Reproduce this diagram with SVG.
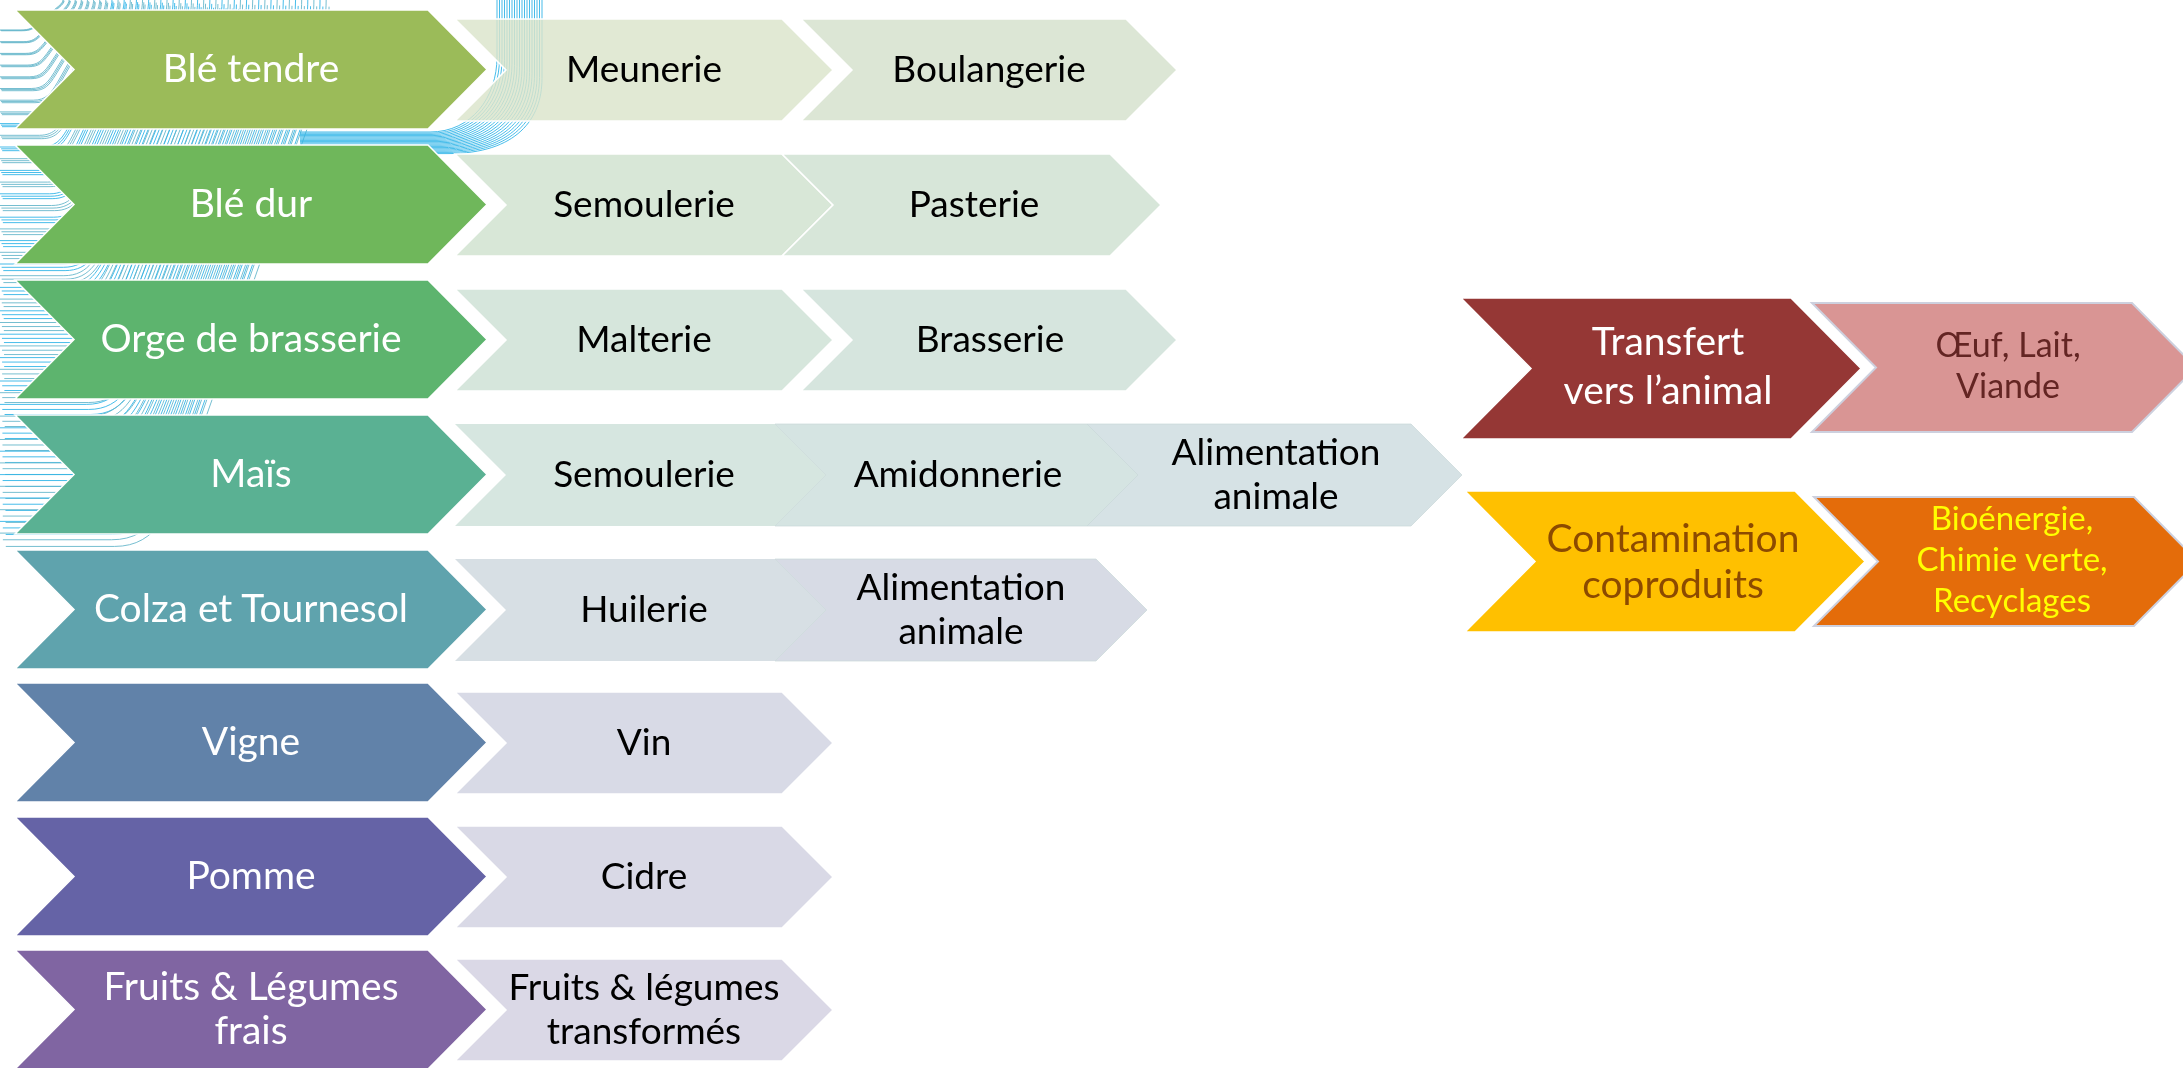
<svg xmlns="http://www.w3.org/2000/svg" xmlns:xlink="http://www.w3.org/1999/xlink" width="2183" height="1068" viewBox="0 0 2183 1068">
<defs>
<style>
.bg{fill:#fff}
.p{stroke:#fff;stroke-width:1.5}
.s{stroke:#fff;stroke-width:1.5}
.ov{stroke:#c9d8d8;stroke-width:1;stroke-opacity:0.7}
.t{font-family:Lato,"Open Sans","DejaVu Sans",sans-serif;text-anchor:middle}
.tp{font-size:39px;fill:#fff}
.ts{font-size:37px;fill:#000}
.wv{fill:none;stroke-width:0.9;vector-effect:non-scaling-stroke}
.c1{stroke:#27b1e6}
.c2{stroke:#5fb3c8}
</style>
<g id="wb">
<path class="wv" d="M0,1 L0.3,1 C0.42,1 0.46,0.93 0.52,0.82 L0.84,0.2 C0.88,0.12 0.9,0.05 0.9,0"/>
<path class="wv" transform="translate(0.008,0.0125)" d="M0,1 L0.3,1 C0.42,1 0.46,0.93 0.52,0.82 L0.84,0.2 C0.88,0.12 0.9,0.05 0.9,0"/>
<path class="wv" transform="translate(0.016,0.025)" d="M0,1 L0.3,1 C0.42,1 0.46,0.93 0.52,0.82 L0.84,0.2 C0.88,0.12 0.9,0.05 0.9,0"/>
</g>
</defs>
<rect class="bg" x="0" y="0" width="2183" height="1068"/>

<g id="background-pattern" opacity="0.95">
<use xlink:href="#wb" class="c2" transform="scale(70,30)"/>
<use xlink:href="#wb" class="c2" transform="scale(76.8,41.7)"/>
<use xlink:href="#wb" class="c2" transform="scale(83.6,53.4)"/>
<use xlink:href="#wb" class="c2" transform="scale(90.4,65.1)"/>
<use xlink:href="#wb" class="c2" transform="scale(97.2,76.8)"/>
<use xlink:href="#wb" class="c2" transform="scale(104,88.5)"/>
<use xlink:href="#wb" class="c2" transform="scale(110.8,100.2)"/>
<use xlink:href="#wb" class="c2" transform="scale(117.6,111.9)"/>
<use xlink:href="#wb" class="c1" transform="scale(124.4,123.6)"/>
<use xlink:href="#wb" class="c2" transform="scale(131.2,135.3)"/>
<use xlink:href="#wb" class="c1" transform="scale(138,147)"/>
<use xlink:href="#wb" class="c2" transform="scale(144.8,158.7)"/>
<use xlink:href="#wb" class="c1" transform="scale(151.6,170.4)"/>
<use xlink:href="#wb" class="c2" transform="scale(158.4,182.1)"/>
<use xlink:href="#wb" class="c1" transform="scale(165.2,193.8)"/>
<use xlink:href="#wb" class="c2" transform="scale(172,205.5)"/>
<use xlink:href="#wb" class="c1" transform="scale(178.8,217.2)"/>
<use xlink:href="#wb" class="c2" transform="scale(185.6,228.9)"/>
<use xlink:href="#wb" class="c1" transform="scale(192.4,240.6)"/>
<use xlink:href="#wb" class="c2" transform="scale(199.2,252.3)"/>
<use xlink:href="#wb" class="c1" transform="scale(206,264)"/>
<use xlink:href="#wb" class="c2" transform="scale(212.8,275.7)"/>
<use xlink:href="#wb" class="c1" transform="scale(219.6,287.4)"/>
<use xlink:href="#wb" class="c2" transform="scale(226.4,299.1)"/>
<use xlink:href="#wb" class="c1" transform="scale(233.2,310.8)"/>
<use xlink:href="#wb" class="c2" transform="scale(240,322.5)"/>
<use xlink:href="#wb" class="c1" transform="scale(246.8,334.2)"/>
<use xlink:href="#wb" class="c2" transform="scale(253.6,345.9)"/>
<use xlink:href="#wb" class="c1" transform="scale(260.4,357.6)"/>
<use xlink:href="#wb" class="c2" transform="scale(267.2,369.3)"/>
<use xlink:href="#wb" class="c1" transform="scale(274,381)"/>
<use xlink:href="#wb" class="c2" transform="scale(280.8,392.7)"/>
<use xlink:href="#wb" class="c1" transform="scale(287.6,404.4)"/>
<use xlink:href="#wb" class="c2" transform="scale(294.4,416.1)"/>
<use xlink:href="#wb" class="c1" transform="scale(301.2,427.8)"/>
<use xlink:href="#wb" class="c2" transform="scale(308,439.5)"/>
<use xlink:href="#wb" class="c1" transform="scale(314.8,451.2)"/>
<use xlink:href="#wb" class="c2" transform="scale(321.6,462.9)"/>
<use xlink:href="#wb" class="c1" transform="scale(328.4,474.6)"/>
<use xlink:href="#wb" class="c2" transform="scale(335.2,486.3)"/>
<use xlink:href="#wb" class="c1" transform="scale(342,498)"/>
<use xlink:href="#wb" class="c2" transform="scale(348.8,509.7)"/>
<use xlink:href="#wb" class="c1" transform="scale(355.6,521.4)"/>
<use xlink:href="#wb" class="c2" transform="scale(362.4,533.1)"/>
<path class="wv c1" d="M300,132 L430,132 C472,132 497,97 497,57 L497,0"/>
<path class="wv c1" d="M300,133.2 L431,133.2 C474.5,133.2 499.5,98.2 499.5,58.2 L499.5,0"/>
<path class="wv c1" d="M300,134.4 L432,134.4 C477,134.4 502,99.4 502,59.4 L502,0"/>
<path class="wv c1" d="M300,135.6 L433,135.6 C479.5,135.6 504.5,100.6 504.5,60.6 L504.5,0"/>
<path class="wv c1" d="M300,136.8 L434,136.8 C482,136.8 507,101.8 507,61.8 L507,0"/>
<path class="wv c1" d="M300,138 L435,138 C484.5,138 509.5,103 509.5,63 L509.5,0"/>
<path class="wv c1" d="M300,139.2 L436,139.2 C487,139.2 512,104.2 512,64.2 L512,0"/>
<path class="wv c1" d="M300,140.4 L437,140.4 C489.5,140.4 514.5,105.4 514.5,65.4 L514.5,0"/>
<path class="wv c1" d="M300,141.6 L438,141.6 C492,141.6 517,106.6 517,66.6 L517,0"/>
<path class="wv c1" d="M300,142.8 L439,142.8 C494.5,142.8 519.5,107.8 519.5,67.8 L519.5,0"/>
<path class="wv c1" d="M300,144 L440,144 C497,144 522,109 522,69 L522,0"/>
<path class="wv c1" d="M300,145.2 L441,145.2 C499.5,145.2 524.5,110.2 524.5,70.2 L524.5,0"/>
<path class="wv c1" d="M300,146.4 L442,146.4 C502,146.4 527,111.4 527,71.4 L527,0"/>
<path class="wv c1" d="M300,147.6 L443,147.6 C504.5,147.6 529.5,112.6 529.5,72.6 L529.5,0"/>
<path class="wv c1" d="M300,148.8 L444,148.8 C507,148.8 532,113.8 532,73.8 L532,0"/>
<path class="wv c1" d="M300,150 L445,150 C509.5,150 534.5,115 534.5,75 L534.5,0"/>
<path class="wv c1" d="M300,151.2 L446,151.2 C512,151.2 537,116.2 537,76.2 L537,0"/>
<path class="wv c1" d="M300,152.4 L447,152.4 C514.5,152.4 539.5,117.4 539.5,77.4 L539.5,0"/>
<path class="wv c1" d="M300,153.6 L448,153.6 C517,153.6 542,118.6 542,78.6 L542,0"/>
</g>

<g id="connectors"/>

<g id="ble-tendre">
<polygon class="p" fill="#9bbb59" points="15,10 428,10 487,69.5 428,129 15,129 74,69.5"/>
<text class="t tp" x="251" y="82">Blé tendre</text>
</g>
<g id="meunerie">
<polygon class="s" fill="#dae4cb" fill-opacity="0.82" points="455,19 782,19 833,70 782,121 455,121 506,70"/>
<text class="t ts" x="644" y="82">Meunerie</text>
</g>
<g id="boulangerie">
<polygon class="s" fill="#dce6d5" points="801,19 1126,19 1177,70 1126,121 801,121 852,70"/>
<text class="t ts" x="989" y="82">Boulangerie</text>
</g>

<g id="ble-dur">
<polygon class="p" fill="#6fb75b" points="15,145 428,145 487,204.5 428,264 15,264 74,204.5"/>
<text class="t tp" x="251" y="217">Blé dur</text>
</g>
<g id="semoulerie-ble">
<polygon class="s" fill="#d8e7d7" points="455,154 782,154 833,205 782,256 455,256 506,205"/>
<text class="t ts" x="644" y="217">Semoulerie</text>
</g>
<g id="pasterie">
<polygon class="s" fill="#d7e6d9" points="782,154 1110,154 1161,205 1110,256 782,256 833,205"/>
<text class="t ts" x="974" y="217">Pasterie</text>
</g>

<g id="orge">
<polygon class="p" fill="#5db46e" points="15,280 428,280 487,339.5 428,399 15,399 74,339.5"/>
<text class="t tp" x="251" y="352">Orge de brasserie</text>
</g>
<g id="malterie">
<polygon class="s" fill="#d6e6dc" points="455,289 782,289 833,340 782,391 455,391 506,340"/>
<text class="t ts" x="644" y="352">Malterie</text>
</g>
<g id="brasserie">
<polygon class="s" fill="#d6e5de" points="801,289 1126,289 1177,340 1126,391 801,391 852,340"/>
<text class="t ts" x="990" y="352">Brasserie</text>
</g>

<g id="mais">
<polygon class="p" fill="#5ab193" points="15,415 428,415 487,474.5 428,534 15,534 74,474.5"/>
<text class="t tp" x="251" y="487">Maïs</text>
</g>
<g id="semoulerie-mais">
<polygon fill="#d6e6e0" points="455,424 775,424 826,475 775,526 455,526 506,475"/>
<text class="t ts" x="644" y="487">Semoulerie</text>
</g>
<g id="amidonnerie">
<polygon class="ov" fill="#d5e4e2" points="775,424 1087,424 1138,475 1087,526 775,526 826,475"/>
<text class="t ts" x="958" y="487">Amidonnerie</text>
</g>
<g id="alimentation-mais">
<polygon class="ov" fill="#d6e2e5" points="1087,424 1411,424 1462,475 1411,526 1087,526 1138,475"/>
<text class="t ts" x="1276" y="465">Alimentation</text>
<text class="t ts" x="1276" y="509">animale</text>
</g>

<g id="colza">
<polygon class="p" fill="#5fa3ad" points="15,550 428,550 487,609.5 428,669 15,669 74,609.5"/>
<text class="t tp" x="251" y="622">Colza et Tournesol</text>
</g>
<g id="huilerie">
<polygon fill="#d7dfe4" points="455,559 775,559 826,610 775,661 455,661 506,610"/>
<text class="t ts" x="644" y="622">Huilerie</text>
</g>
<g id="alimentation-colza">
<polygon class="ov" fill="#d7dbe5" points="775,559 1096,559 1147,610 1096,661 775,661 826,610"/>
<text class="t ts" x="961" y="600">Alimentation</text>
<text class="t ts" x="961" y="644">animale</text>
</g>

<g id="vigne">
<polygon class="p" fill="#6182a9" points="15,683 428,683 487,742.5 428,802 15,802 74,742.5"/>
<text class="t tp" x="251" y="755">Vigne</text>
</g>
<g id="vin">
<polygon class="s" fill="#d8dae6" points="455,692 782,692 833,743 782,794 455,794 506,743"/>
<text class="t ts" x="644" y="755">Vin</text>
</g>

<g id="pomme">
<polygon class="p" fill="#6563a6" points="15,817 428,817 487,876.5 428,936 15,936 74,876.5"/>
<text class="t tp" x="251" y="889">Pomme</text>
</g>
<g id="cidre">
<polygon class="s" fill="#d9d9e6" points="455,826 782,826 833,877 782,928 455,928 506,877"/>
<text class="t ts" x="644" y="889">Cidre</text>
</g>

<g id="fruits-legumes">
<polygon class="p" fill="#8065a2" points="15,950 428,950 487,1009.5 428,1069 15,1069 74,1009.5"/>
<text class="t tp" x="251" y="1000">Fruits &amp; Légumes</text>
<text class="t tp" x="251" y="1044">frais</text>
</g>
<g id="fruits-legumes-transformes">
<polygon class="s" fill="#dad8e6" points="455,959 782,959 833,1010 782,1061 455,1061 506,1010"/>
<text class="t ts" x="644" y="1000">Fruits &amp; légumes</text>
<text class="t ts" x="644" y="1044">transformés</text>
</g>

<g id="transfert">
<polygon class="p" fill="#953735" points="1461,298 1791,298 1861,368.5 1791,439 1461,439 1531,368.5"/>
<text class="t tp" x="1668" y="355">Transfert</text>
<text class="t tp" x="1668" y="404">vers l’animal</text>
</g>
<g id="oeuf-lait-viande">
<polygon fill="#d99594" stroke="#cdd0de" stroke-width="2" points="1812,303 2132,303 2196,367.5 2132,432 1812,432 1876,367.5"/>
<text class="t" font-size="34" fill="#632523" x="2008" y="357">Œuf, Lait,</text>
<text class="t" font-size="34" fill="#632523" x="2008" y="398">Viande</text>
</g>

<g id="contamination">
<polygon class="p" fill="#ffc000" points="1465,491 1795,491 1865,561.5 1795,632 1465,632 1535,561.5"/>
<text class="t" font-size="39" fill="#8c4a00" x="1673" y="552">Contamination</text>
<text class="t" font-size="39" fill="#8c4a00" x="1673" y="598">coproduits</text>
</g>
<g id="bioenergie">
<polygon fill="#e46c0a" stroke="#cdd0de" stroke-width="2" points="1814,497 2134,497 2198,561.5 2134,626 1814,626 1878,561.5"/>
<text class="t" font-size="33" fill="#ffff00" x="2012" y="530">Bioénergie,</text>
<text class="t" font-size="33" fill="#ffff00" x="2012" y="571">Chimie verte,</text>
<text class="t" font-size="33" fill="#ffff00" x="2012" y="612">Recyclages</text>
</g>
</svg>
